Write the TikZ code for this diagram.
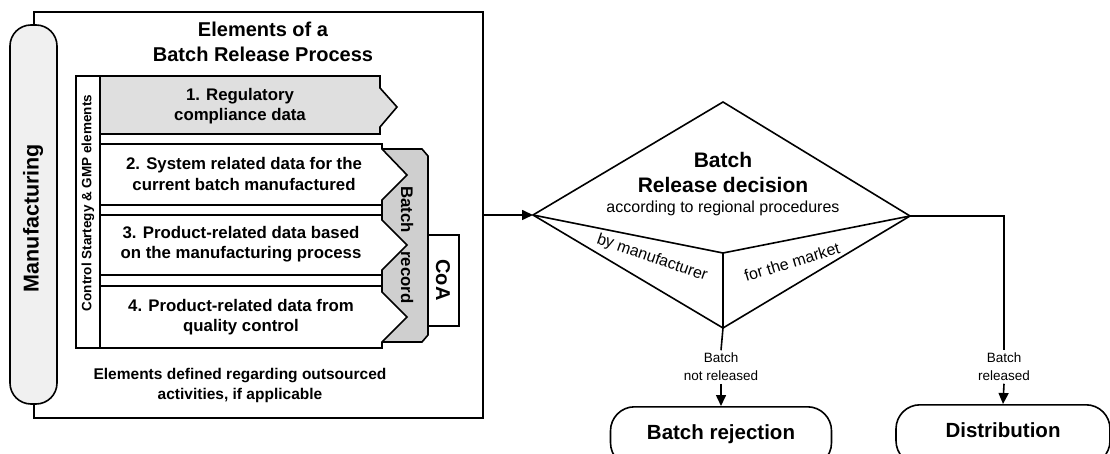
\documentclass[tikz,border=0pt]{standalone}
\usepackage{fontspec}
\setmainfont{Liberation Sans}
\usetikzlibrary{arrows.meta}

\begin{document}
\begin{tikzpicture}[x=1pt,y=-1pt,line width=1.6pt,
  rowtxt/.style={font=\bfseries\fontsize{16.8}{20.5}\selectfont,align=center,inner sep=0pt},
  edgetxt/.style={font=\fontsize{16}{19}\selectfont,inner sep=0pt},
  branch/.style={font=\fontsize{13.5}{18}\selectfont,align=center,inner sep=2pt},
  terminal/.style={draw,rounded corners=24pt,minimum width=#1,minimum height=60pt,anchor=north,text height=15pt,text depth=10pt,font=\bfseries\fontsize{20.5}{24}\selectfont},
  arr/.style={-{Triangle[length=11pt,width=10pt]}}]
\useasboundingbox (0,0) rectangle (1110,454);

\node[draw,minimum width=449pt,minimum height=406pt,inner sep=0pt] (frame) at (258.5,215) {};
\draw[fill=gray!12,rounded corners=21pt] (10,25) rectangle (57,404);
\node[rotate=90,font=\bfseries\fontsize{21.5}{24}\selectfont] (mfg) at (33,218) {Manufacturing};
\node[font=\bfseries\fontsize{20}{25}\selectfont,align=center] (title) at (263,42) {Elements of a\\Batch Release Process};

\draw (76,76) rectangle (100,348);
\node[rotate=90,font=\bfseries\fontsize{13.5}{16}\selectfont] (ctrl) at (88,203) {Control Startegy \& GMP elements};

\draw[fill=gray!38] (382,149) -- (422,149) -- (428,156) -- (428,335) -- (422,342) -- (382,342) -- cycle;
\draw (428,235) rectangle (459,326);
\draw[fill=gray!25] (100,76) -- (380,76) -- (380,88) -- (397,107) -- (380,127) -- (380,134) -- (100,134) -- cycle;
\draw[fill=white] (100,144) -- (382,144) -- (382,149) -- (407,175) -- (382,200) -- (382,205) -- (100,205) -- cycle;
\draw[fill=white] (100,215) -- (382,215) -- (382,220) -- (407,245) -- (382,270) -- (382,275) -- (100,275) -- cycle;
\draw[fill=white] (100,286) -- (382,286) -- (382,292) -- (407,317) -- (382,342) -- (382,348) -- (100,348) -- cycle;

\node[rowtxt] (r1) at (240,106) {1. Regulatory\\compliance data};
\node[rowtxt] (r2) at (244,174) {2. System related data for the\\current batch manufactured};
\node[rowtxt] (r3) at (241,244) {3. Product-related data based\\on the manufacturing process};
\node[rowtxt] (r4) at (241,317) {4. Product-related data from\\quality control};
\node[rowtxt,rotate=-90] (rec) at (407,245) {Batch\hspace{18pt}record};
\node[rotate=-90,font=\bfseries\fontsize{20}{24}\selectfont] (coa) at (443,280) {CoA};
\node[font=\bfseries\fontsize{15.5}{20}\selectfont,align=center] (outs) at (240,385) {Elements defined regarding outsourced\\activities, if applicable};

\coordinate (dl) at (533,215);
\coordinate (dt) at (723,102);
\coordinate (dr) at (910,216);
\coordinate (db) at (723,328);
\coordinate (dv) at (723,253);
\draw (dl) -- (dt) -- (dr) -- (db) -- cycle;
\draw (dl) -- (dv) -- (dr);
\draw (dv) -- (db);
\node[font=\bfseries\fontsize{21}{25}\selectfont,align=center] (dec) at (723,172) {Batch\\Release decision};
\node[edgetxt] (proc) at (723,208) {according to regional procedures};
\node[edgetxt,rotate=-19] (byman) at (652,258) {by manufacturer};
\node[edgetxt,rotate=17] (market) at (792,262) {for the market};

\node[branch] (notrel) at (721,367) {Batch\\not released};
\node[branch] (rel) at (1004,367) {Batch\\released};
\node[terminal=221pt] (rej) at (721,406) {Batch rejection};
\node[terminal=214pt] (dist) at (1003,404) {Distribution};

\draw[arr] (frame.east |- dl) -- (dl);
\draw (db) -- (notrel.north);
\draw[arr] (notrel.south) -- (rej.north);
\draw (dr) -| (rel.north);
\draw[arr] (rel.south) -- (dist.north);
\end{tikzpicture}
\end{document}
